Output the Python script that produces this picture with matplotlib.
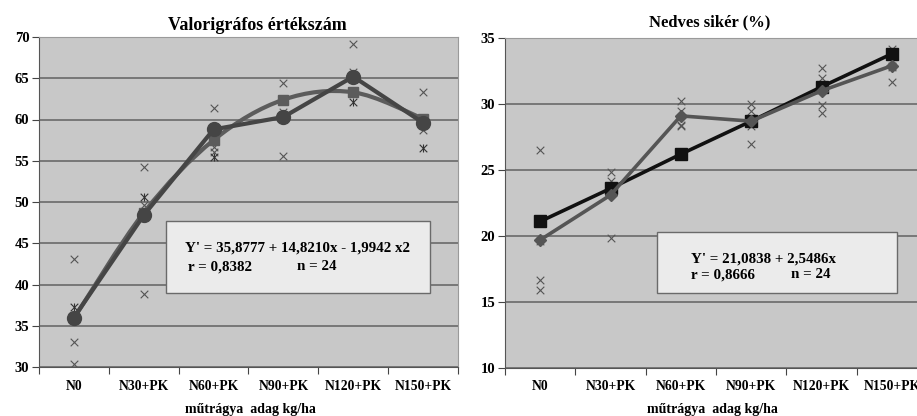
import matplotlib
matplotlib.use("Agg")
import matplotlib.pyplot as plt
from matplotlib.path import Path
from matplotlib.patches import PathPatch, Rectangle
import numpy as np

plt.rcParams['font.family'] = ['Liberation Serif', 'DejaVu Serif']
plt.rcParams['font.weight'] = 'bold'

categories = ["N0", "N30+PK", "N60+PK", "N90+PK", "N120+PK", "N150+PK"]

# Left panel: Valorigráfos értékszám
val_mean = [36.0, 48.4, 58.8, 60.3, 65.2, 59.6]
val_fit = [35.9, 48.7, 57.5, 62.4, 63.3, 60.1]
val_obs_x_cat = [0, 0, 0, 1, 1, 1, 2, 2, 2, 3, 3, 3, 4, 4, 4, 5, 5, 5]
val_obs_x_val = [43.1, 33.0, 30.4, 54.3, 49.6, 38.9, 61.4, 56.7, 56.1,
                 64.4, 60.9, 55.6, 69.2, 65.8, 63.4, 63.3, 58.7, 59.8]
val_obs_star_cat = [0, 1, 2, 3, 4, 5]
val_obs_star_val = [37.3, 50.6, 55.5, 60.2, 62.1, 56.6]

# Right panel: Nedves sikér (%)
sik_mean = [19.7, 23.1, 29.1, 28.7, 31.0, 32.9]
sik_fit = [21.1, 23.6, 26.2, 28.7, 31.3, 33.8]
sik_obs_cat = [0, 0, 0, 0, 1, 1, 1, 1, 2, 2, 2, 2, 3, 3, 3, 3, 4, 4, 4, 4, 5, 5, 5, 5]
sik_obs_val = [26.5, 16.7, 15.9, 19.6, 24.85, 24.2, 23.5, 19.85, 30.2, 29.5, 28.3, 28.4,
               30.0, 29.5, 27.0, 28.3, 32.7, 32.0, 29.9, 29.3, 34.2, 31.7, 32.9, 32.8]

BG = "#c8c8c8"
GRID = "#6a6a6a"

fig = plt.figure(figsize=(9.17, 4.16), dpi=100)


def smooth_path(xs, ys):
    pts = np.column_stack([xs, ys]).astype(float)
    verts = [pts[0]]
    codes = [Path.MOVETO]
    n = len(pts)
    for i in range(n - 1):
        p0 = pts[i - 1] if i > 0 else pts[i]
        p1 = pts[i]
        p2 = pts[i + 1]
        p3 = pts[i + 2] if i + 2 < n else pts[i + 1]
        c1 = p1 + (p2 - p0) / 6.0
        c2 = p2 - (p3 - p1) / 6.0
        verts += [c1, c2, p2]
        codes += [Path.CURVE4] * 3
    return Path(verts, codes)


def style_axes(ax, ylim, yticks):
    ax.set_facecolor(BG)
    ax.set_xlim(-0.5, 5.5)
    ax.set_ylim(*ylim)
    ax.set_yticks(yticks)
    ax.set_yticklabels([str(t) for t in yticks], fontsize=10.5, fontweight='bold')
    ax.set_xticks(np.arange(-0.5, 6.0, 1.0))
    ax.set_xticklabels([])
    ax.set_xticks(np.arange(6), minor=True)
    ax.set_xticklabels(categories, minor=True, fontsize=9.8, fontweight='bold')
    ax.tick_params(axis='x', which='major', length=5, direction='out', color='#444')
    ax.tick_params(axis='x', which='minor', length=0, pad=9)
    ax.tick_params(axis='y', length=5, direction='out', color='#444', pad=2)
    for t in yticks:
        ax.axhline(t, color=GRID, lw=1.2, zorder=1)
    for s in ['top', 'right']:
        ax.spines[s].set_color('#9a9a9a')
        ax.spines[s].set_linewidth(0.8)
    for s in ['left', 'bottom']:
        ax.spines[s].set_color('#555')
        ax.spines[s].set_linewidth(0.8)


# ---------- Left ----------
axL = fig.add_axes([39 / 917, 1 - 367 / 416, (458 - 39) / 917, 330 / 416])
style_axes(axL, (30, 70), [30, 35, 40, 45, 50, 55, 60, 65, 70])
x = np.arange(6)
axL.scatter(val_obs_x_cat, val_obs_x_val, marker='x', s=30, color='#555', linewidths=0.8, zorder=3)
axL.scatter(val_obs_star_cat, val_obs_star_val, marker='x', s=30, color='#333', linewidths=0.8, zorder=3)
axL.scatter(val_obs_star_cat, val_obs_star_val, marker='|', s=30, color='#333', linewidths=0.8, zorder=3)
axL.add_patch(PathPatch(smooth_path(x, val_fit), facecolor='none', edgecolor='#5c5c5c', lw=3.0,
                        zorder=4, capstyle='round'))
axL.plot(x, val_fit, linestyle='none', marker='s', ms=7, color='#5c5c5c', zorder=4)
axL.plot(x, val_mean, color='#454545', lw=3.0, marker='o', ms=10, zorder=5)
axL.add_patch(Rectangle((0.303, 0.224), 0.630, 0.218, transform=axL.transAxes,
                        facecolor='#ebebeb', edgecolor='#6a6a6a', lw=1.0, zorder=6))
axL.text((185 - 39) / 419, (367 - 248) / 330, "Y' = 35,8777 + 14,8210x - 1,9942 x2",
         transform=axL.transAxes, fontsize=10.8, fontweight='bold', va='center', ha='left', zorder=7)
axL.text((188 - 39) / 419, (367 - 267) / 330, "r = 0,8382",
         transform=axL.transAxes, fontsize=10.8, fontweight='bold', va='center', ha='left', zorder=7)
axL.text((297 - 39) / 419, (367 - 267) / 330, "n = 24",
         transform=axL.transAxes, fontsize=10.8, fontweight='bold', va='center', ha='left', zorder=7)
fig.text(257 / 917, 1 - 25 / 416, "Valorigráfos értékszám", ha='center', va='center',
         fontsize=13, fontweight='bold')
fig.text(250 / 917, 1 - 409 / 416, "műtrágya  adag kg/ha", ha='center', va='center',
         fontsize=10, fontweight='bold')

# ---------- Right ----------
axR = fig.add_axes([505 / 917, 1 - 368 / 416, (927 - 505) / 917, 330 / 416])
style_axes(axR, (10, 35), [10, 15, 20, 25, 30, 35])
axR.scatter(sik_obs_cat, sik_obs_val, marker='x', s=30, color='#555', linewidths=0.8, zorder=3)
axR.plot(x, sik_fit, color='#111111', lw=2.6, marker='s', ms=9, zorder=4)
axR.plot(x, sik_mean, color='#555555', lw=2.6, marker='D', ms=6.5, zorder=5)
axR.add_patch(Rectangle((0.360, 0.227), 0.569, 0.185, transform=axR.transAxes,
                        facecolor='#ebebeb', edgecolor='#6a6a6a', lw=1.0, zorder=6))
axR.text((691 - 505) / 422, (368 - 259) / 330, "Y' = 21,0838 + 2,5486x",
         transform=axR.transAxes, fontsize=10.8, fontweight='bold', va='center', ha='left', zorder=7)
axR.text((691 - 505) / 422, (368 - 275) / 330, "r = 0,8666",
         transform=axR.transAxes, fontsize=10.8, fontweight='bold', va='center', ha='left', zorder=7)
axR.text((791 - 505) / 422, (368 - 275) / 330, "n = 24",
         transform=axR.transAxes, fontsize=10.8, fontweight='bold', va='center', ha='left', zorder=7)
fig.text(710 / 917, 1 - 22 / 416, "Nedves sikér (%)", ha='center', va='center',
         fontsize=12, fontweight='bold')
fig.text(712 / 917, 1 - 409 / 416, "műtrágya  adag kg/ha", ha='center', va='center',
         fontsize=10, fontweight='bold')

fig.savefig("out.png", dpi=100, facecolor='white')
